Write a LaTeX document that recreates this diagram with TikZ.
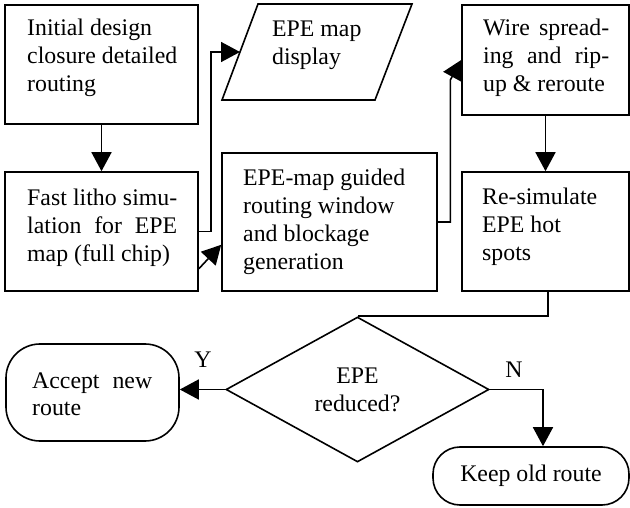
\documentclass[tikz,border=0pt]{standalone}
\usepackage{fontspec}
\setmainfont{Liberation Serif}
\usetikzlibrary{shapes.geometric,arrows.meta,calc}
\newcommand\jline[1]{\makebox[\linewidth][s]{#1}}
\tikzset{
  box/.style={draw, line width=1.6pt, rectangle, inner sep=0pt},
  term/.style={draw, line width=1.6pt, rectangle, inner sep=0pt},
  txt/.style={anchor=base west, inner sep=0pt},
  arr/.style={line width=1.6pt, -{Triangle[length=19pt,width=20pt]}},
  conn/.style={line width=1.6pt},
  lbl/.style={anchor=base, inner sep=0pt}
}
\begin{document}
\begin{tikzpicture}[x=1pt,y=-1pt,font=\fontsize{23.8}{27.8}\selectfont]
\useasboundingbox (0,0) rectangle (630,508);
% boxes
\node[box, minimum width=193pt, minimum height=119pt] (b1) at (101.5,64.5) {};
\node[box, minimum width=193pt, minimum height=119pt] (b2) at (101.5,231.5) {};
\node[box, minimum width=215pt, minimum height=138pt] (b3) at (329.5,222) {};
\node[box, minimum width=167pt, minimum height=110pt] (b4) at (545.5,60) {};
\node[box, minimum width=167pt, minimum height=119pt] (b5) at (545.5,231.5) {};
% parallelogram
\coordinate (pbl) at (222,100);
\coordinate (ptl) at (258,4);
\coordinate (ptr) at (412,4);
\coordinate (pbr) at (375,100);
\coordinate (pw) at ($(pbl)!0.5!(ptl)$);
\draw[line width=1.6pt, line join=miter] (pbl) -- (ptl) -- (ptr) -- (pbr) -- cycle;
\node[draw, line width=1.6pt, diamond, aspect=2, inner sep=0pt, minimum width=263pt, minimum height=145pt,
      align=center] (d) at (357.5,389.5) {EPE\\reduced?};
\node[term, rounded corners=34pt, minimum width=173pt, minimum height=97pt] (acc) at (92.5,392.5) {};
\node[term, rounded corners=27pt, minimum width=196pt, minimum height=58pt] (keep) at (531,476) {Keep old route};
% texts
\node[txt] (t1) at (27,36) {\parbox[t]{152pt}{Initial design\\closure detailed\\routing}};
\node[txt] (t2) at (27,206) {\parbox[t]{150pt}{\jline{Fast litho simu-}\\\jline{lation for EPE}\\map (full chip)}};
\node[txt] (t3) at (243,186) {\parbox[t]{180pt}{EPE-map guided\\routing window\\and blockage\\generation}};
\node[txt] (t4) at (483,36) {\parbox[t]{126pt}{\jline{Wire spread-}\\\jline{ing and rip-}\\up \& reroute}};
\node[txt] (t5) at (482,205) {\parbox[t]{130pt}{Re-simulate\\EPE hot\\spots}};
\node[txt] (tp) at (272,37) {\parbox[t]{120pt}{EPE map\\display}};
\node[txt] (ta) at (32,388) {\parbox[t]{120pt}{\jline{Accept new}\\route}};
\node[lbl] (ly) at (203,367) {Y};
\node[lbl] (ln) at (514,377) {N};
% connectors
\draw[arr] (b1.south) -- (b2.north);
\draw[arr] (b2.east) -- ++(12,0) |- (pw);
\draw[arr] ($(b2.south east)+(0,-23)$) -- ($(b3.south west)+(0,-47)$);
\draw[arr] (b3.east) -- ++(12.5,0) coordinate (k) -- ($(k |- b4.west)+(0,20)$) -- (b4.west);
\draw[arr] (b4.south) -- (b5.north);
\draw[conn] ($(b5.south)+(2.5,0)$) |- (d.north);
\draw[arr] (d.west) -- (d.west -| acc.east);
\draw[arr] (d.east) -| ($(keep.north)+(12,0)$);
\end{tikzpicture}
\end{document}
